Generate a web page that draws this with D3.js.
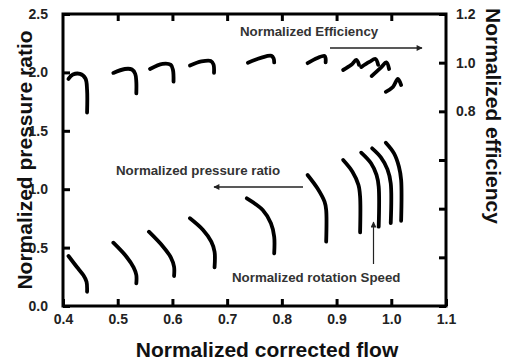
<!DOCTYPE html>
<html><head><meta charset="utf-8">
<script src="https://cdn.jsdelivr.net/npm/d3@7/dist/d3.min.js"></script>
<style>
html,body{margin:0;padding:0;background:#fff;}
svg{display:block;font-family:"Liberation Sans",Arial,sans-serif;}
</style></head>
<body><svg id="c" width="514" height="360"></svg>
<script>
// ---- data ----
const xTicks = [0.4,0.5,0.6,0.7,0.8,0.9,1.0,1.1];
const leftTicks = [0,0.5,1.0,1.5,2.0,2.5];
const rightTicks = [0,0.2,0.4,0.6,0.8,1.0,1.2];
const rightLabelled = [0.8,1.0,1.2];

const pressureFlow = [
  [0.410,0.425,0.437,0.443,0.444],
  [0.492,0.516,0.529,0.534,0.534],
  [0.557,0.583,0.597,0.603,0.603],
  [0.632,0.656,0.671,0.677,0.677],
  [0.736,0.765,0.780,0.786,0.786],
  [0.847,0.865,0.878,0.881,0.881],
  [0.912,0.929,0.940,0.943,0.943],
  [0.945,0.963,0.973,0.977,0.977],
  [0.965,0.981,0.993,0.999,0.999],
  [0.990,1.005,1.014,1.018,1.018]
];
const pressureRatio = [
  [0.428,0.336,0.265,0.208,0.122],
  [0.542,0.422,0.331,0.265,0.194],
  [0.636,0.508,0.417,0.336,0.257],
  [0.751,0.651,0.551,0.465,0.331],
  [0.922,0.822,0.708,0.593,0.450],
  [1.122,1.008,0.893,0.822,0.551],
  [1.250,1.150,1.036,0.936,0.630],
  [1.313,1.222,1.122,1.021,0.679],
  [1.350,1.273,1.170,1.050,0.710],
  [1.398,1.307,1.193,1.079,0.730]
];
const efficiencyFlow = [
  [0.410,0.418,0.431,0.441,0.444,0.444],
  [0.492,0.513,0.526,0.532,0.534,0.534],
  [0.559,0.582,0.597,0.601,0.602],
  [0.632,0.653,0.670,0.675,0.676],
  [0.738,0.763,0.781,0.785,0.786],
  [0.847,0.865,0.878,0.880,0.880],
  [0.912,0.927,0.936,0.941],
  [0.945,0.960,0.971,0.976],
  [0.964,0.981,0.991,0.996],
  [0.990,1.003,1.012,1.018]
];
const efficiencyValue = [
  [0.933,0.951,0.954,0.935,0.888,0.795],
  [0.958,0.974,0.972,0.954,0.921,0.874],
  [0.974,0.995,0.991,0.970,0.922],
  [0.988,1.005,1.007,0.993,0.958],
  [1.000,1.021,1.028,1.017,1.001],
  [0.998,1.019,1.028,1.017,1.001],
  [0.970,0.991,1.011,0.991],
  [0.982,1.003,1.015,0.991],
  [0.945,0.980,1.001,0.974],
  [0.880,0.900,0.933,0.908]
];
const annotations = ["Normalized Efficiency","Normalized pressure ratio","Normalized rotation Speed"];

// ---- layout ----
const L=63, R=446, T=14, B=306;
const svg = d3.select("#c");
const x = d3.scaleLinear().domain([0.4,1.1]).range([L,R]);
const yL = d3.scaleLinear().domain([0,2.5]).range([B,T]);
const yR = d3.scaleLinear().domain([0,1.2]).range([B,T]);

const defs = svg.append("defs");
defs.append("marker").attr("id","ah").attr("viewBox","0 0 10 10").attr("refX",9).attr("refY",5)
  .attr("markerWidth",8).attr("markerHeight",6).attr("markerUnits","userSpaceOnUse").attr("orient","auto")
  .append("path").attr("d","M0,0L10,5L0,10z").attr("fill","#222");

const tickStyle = g => {
  g.select(".domain").remove();
  g.selectAll(".tick line").attr("stroke","#000").attr("stroke-width",3);
  g.selectAll(".tick text").attr("font-size",14).attr("font-weight","bold").attr("fill","#222")
   .attr("font-family","'Liberation Sans',Arial,sans-serif");
};

// bottom axis
svg.append("g").attr("transform",`translate(0,${B})`)
  .call(d3.axisBottom(x).tickValues(xTicks).tickFormat(d3.format(".1f")).tickSizeInner(-7).tickSizeOuter(0).tickPadding(8))
  .call(tickStyle);
// top ticks
svg.append("g").attr("transform",`translate(0,${T})`)
  .call(d3.axisTop(x).tickValues(xTicks.slice(1,-1)).tickFormat("").tickSizeInner(-7).tickSizeOuter(0))
  .call(tickStyle);
// left axis
svg.append("g").attr("transform",`translate(${L},0)`)
  .call(d3.axisLeft(yL).tickValues(leftTicks).tickFormat(d3.format(".1f")).tickSizeInner(-7).tickSizeOuter(0).tickPadding(15))
  .call(tickStyle);
// right axis
svg.append("g").attr("transform",`translate(${R},0)`)
  .call(d3.axisRight(yR).tickValues(rightTicks)
    .tickFormat(d => rightLabelled.some(v=>Math.abs(v-d)<1e-9) ? d3.format(".1f")(d) : "")
    .tickSizeInner(-7).tickSizeOuter(0).tickPadding(10))
  .call(tickStyle);

// frame
svg.append("rect").attr("x",L).attr("y",T).attr("width",R-L).attr("height",B-T)
  .attr("fill","none").attr("stroke","#000").attr("stroke-width",3);

// curves
const lineGen = d3.line().curve(d3.curveCatmullRom.alpha(0.5));
const curves = svg.append("g").attr("fill","none").attr("stroke","#000").attr("stroke-width",3.8)
  .attr("stroke-linejoin","round").attr("stroke-linecap","round");
pressureFlow.forEach((fx,i)=>{
  curves.append("path").attr("d", lineGen(fx.map((f,j)=>[x(f), yL(pressureRatio[i][j])])));
});
efficiencyFlow.forEach((fx,i)=>{
  curves.append("path").attr("d", lineGen(fx.map((f,j)=>[x(f), yR(efficiencyValue[i][j])])));
});

// annotations
const ann = svg.append("g").attr("font-size",13.3).attr("font-weight","bold").attr("fill","#333");
ann.append("text").attr("x",240).attr("y",36).text(annotations[0]);
svg.append("line").attr("x1",330).attr("y1",48).attr("x2",422).attr("y2",48)
  .attr("stroke","#222").attr("stroke-width",1.5).attr("marker-end","url(#ah)");
ann.append("text").attr("x",116).attr("y",175).text(annotations[1]);
svg.append("line").attr("x1",303).attr("y1",187).attr("x2",214).attr("y2",187)
  .attr("stroke","#222").attr("stroke-width",1.5).attr("marker-end","url(#ah)");
ann.append("text").attr("x",232).attr("y",282).text(annotations[2]);
svg.append("line").attr("x1",373.5).attr("y1",264).attr("x2",373.5).attr("y2",222)
  .attr("stroke","#222").attr("stroke-width",1.2).attr("marker-end","url(#ah)");

// axis titles
const title = svg.append("g").attr("font-size",21).attr("font-weight","bold").attr("fill","#111");
title.append("text").attr("x",267).attr("y",356.5).attr("text-anchor","middle").text("Normalized corrected flow");
title.append("text").attr("transform","translate(32,160) rotate(-90)").attr("text-anchor","middle").text("Normalized pressure ratio");
title.append("text").attr("transform","translate(486,116) rotate(90)").attr("text-anchor","middle").text("Normalized efficiency");
</script></body></html>
